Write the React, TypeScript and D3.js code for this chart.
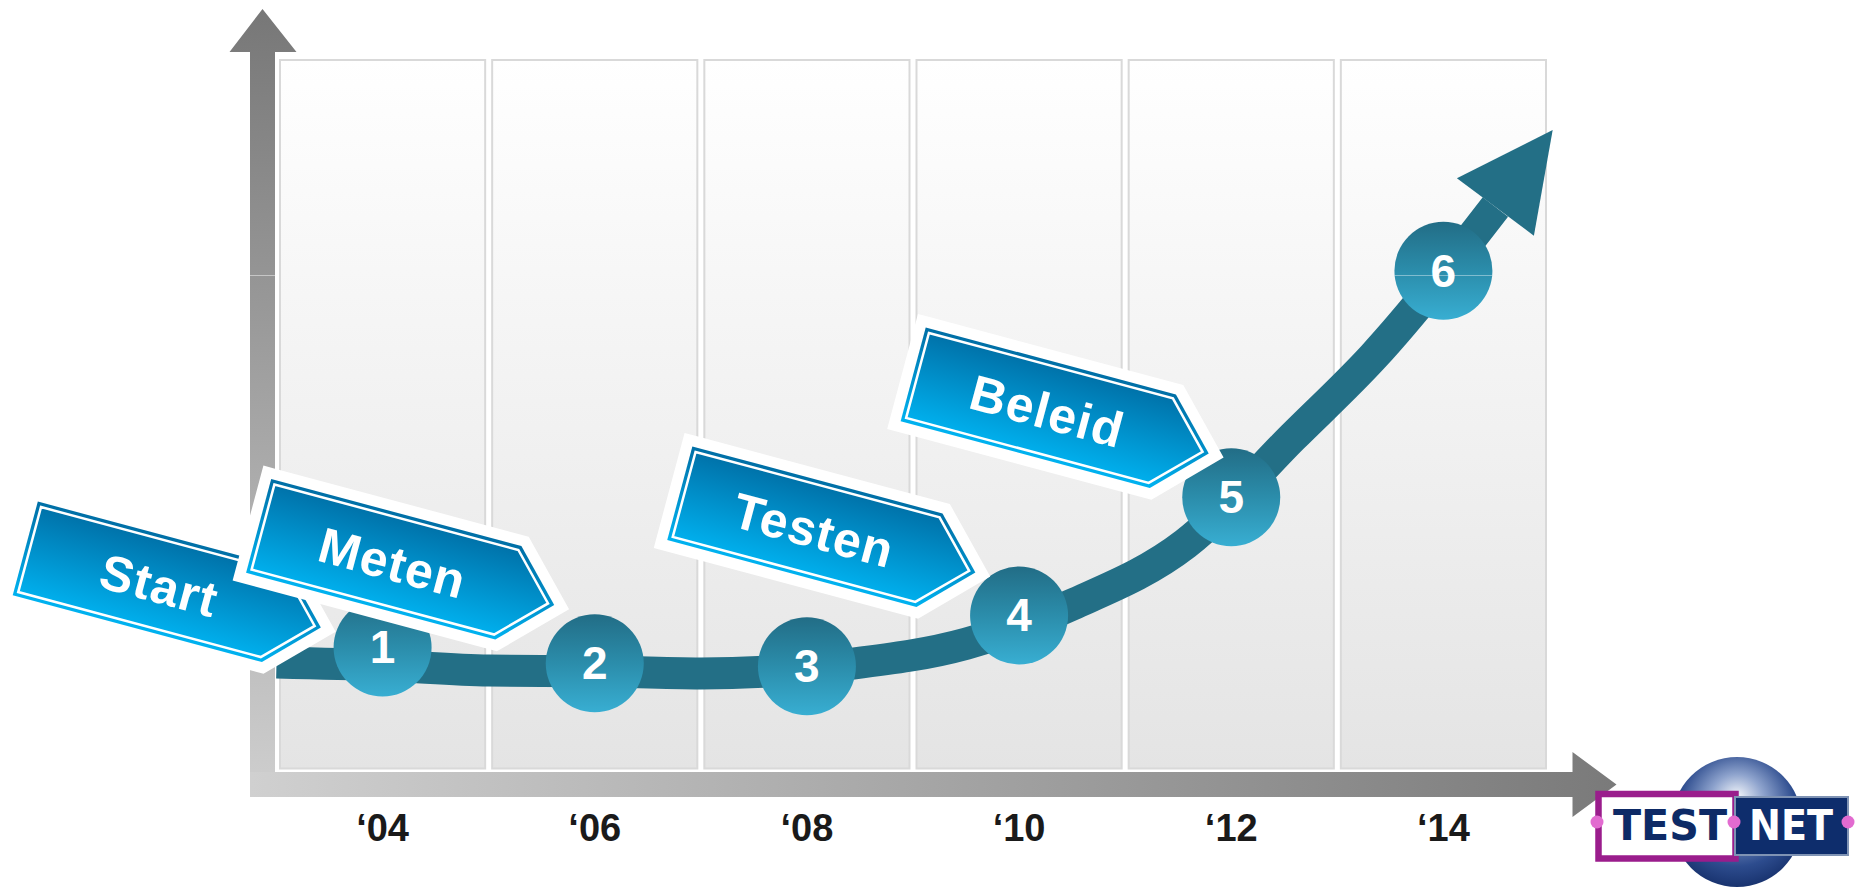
import React, { useRef, useEffect } from "react";
import * as d3 from "d3";

// -----------------------------
// Data
// -----------------------------
const years = [2004, 2006, 2008, 2010, 2012, 2014];
const tickLabels = ["‘04", "‘06", "‘08", "‘10", "‘12", "‘14"];
const milestoneNumbers = ["1", "2", "3", "4", "5", "6"];
const milestoneValues = [18.9, 16.7, 16.3, 23.3, 39.6, 70.8];

const trendYears = [2003.0, 2004.0, 2005.0, 2006.0, 2007.0, 2008.4, 2009.5, 2010.5, 2011.57, 2012.58, 2013.34, 2014.49];
const trendValues = [16.8, 16.4, 15.7, 15.6, 15.3, 16.6, 19.4, 24.8, 33.2, 47.9, 59.0, 79.6];
const trendTipYear = 2015.03;
const trendTipValue = 90.2;

const signLabels = ["Start", "Meten", "Testen", "Beleid"];
const signYears = [2000.75, 2002.95, 2006.92, 2009.12];
const signValues = [39.0, 42.1, 46.6, 63.0];

const W = 1856;
const H = 890;
const FONT = "'Liberation Sans', Arial, Helvetica, sans-serif";

const GrowthChart: React.FC = () => {
    const svgRef = useRef<SVGSVGElement | null>(null);

    useEffect(() => {
        if (!svgRef.current) return;

        const svg = d3.select(svgRef.current);
        svg.selectAll("*").remove();

        const x = d3.scaleLinear().domain([2003, 2015]).range([276.5, 1549.5]);
        const y = d3.scaleLinear().domain([0, 100]).range([784.5, 59]);

        // -----------------------------
        // Gradients
        // -----------------------------
        const defs = svg.append("defs");
        const linear = (id: string, stops: [number, string][], x1 = 0, y1 = 0, x2 = 0, y2 = 1, user = false) => {
            const lg = defs.append("linearGradient").attr("id", id)
                .attr("x1", x1).attr("y1", y1).attr("x2", x2).attr("y2", y2);
            if (user) lg.attr("gradientUnits", "userSpaceOnUse");
            stops.forEach(([o, c]) => lg.append("stop").attr("offset", o).attr("stop-color", c));
        };
        linear("panelGrad", [[0, "#ffffff"], [1, "#e4e4e4"]], 0, y(100), 0, y(0) - 15, true);
        linear("yAxisGrad", [[0, "#777777"], [1, "#cfcfcf"]], 0, 9, 0, 797, true);
        linear("xAxisGrad", [[0, "#d0d0d0"], [1, "#7a7a7a"]], 251, 0, 1616, 0, true);
        linear("circleGrad", [[0, "#226d86"], [0.5, "#2b8dab"], [1, "#38aed2"]]);
        linear("signGrad", [[0, "#006fa6"], [1, "#00b2f0"]]);

        const rg = defs.append("radialGradient").attr("id", "globeGrad")
            .attr("cx", 0.5).attr("cy", 0.42).attr("r", 0.6).attr("fx", 0.5).attr("fy", 0.3);
        [[0, "#f3f6fb"], [0.35, "#8ea3cd"], [0.75, "#2d4c8e"], [1, "#16306b"]]
            .forEach(([o, c]) => rg.append("stop").attr("offset", o as number).attr("stop-color", c as string));

        const g = svg.append("g");

        // -----------------------------
        // Panels
        // -----------------------------
        const panelTop = y(100);
        const panelBottom = y(0) - 15;
        g.selectAll("rect.panel")
            .data(years)
            .join("rect")
            .attr("class", "panel")
            .attr("x", d => x(d - 1) + 3.5)
            .attr("y", panelTop + 1)
            .attr("width", d => x(d + 1) - x(d - 1) - 7)
            .attr("height", panelBottom - panelTop - 2)
            .attr("fill", "url(#panelGrad)")
            .attr("stroke", "#d9d9d9")
            .attr("stroke-width", 2);

        // -----------------------------
        // Axes
        // -----------------------------
        const axisX = x(2003) - 14;
        const axisY = y(0);
        const half = 12.5;
        g.append("path")
            .attr("d", `M${axisX - half},${axisY - half}H${x(2015) + 23}V${axisY - 32.5}L${x(2015) + 67},${axisY}L${x(2015) + 23},${axisY + 32.5}V${axisY + half}H${axisX - half}Z`)
            .attr("fill", "url(#xAxisGrad)");
        g.append("path")
            .attr("d", `M${axisX - half},${axisY + half}V${y(100) - 7}H${axisX - 33}L${axisX},${y(100) - 50}L${axisX + 34},${y(100) - 7}H${axisX + half}V${axisY - half}H${axisX - half}Z`)
            .attr("fill", "url(#yAxisGrad)");
        g.append("line")
            .attr("x1", axisX - half).attr("x2", axisX + half)
            .attr("y1", 275.5).attr("y2", 275.5)
            .attr("stroke", "#c6c6c6").attr("stroke-width", 1);

        // tick labels
        g.selectAll("text.tick")
            .data(years)
            .join("text")
            .attr("class", "tick")
            .attr("x", d => x(d))
            .attr("y", axisY + 56)
            .attr("text-anchor", "middle")
            .attr("font-family", FONT)
            .attr("font-weight", "bold")
            .attr("font-size", 38)
            .attr("fill", "#1a1a1a")
            .text((_, i) => tickLabels[i]);

        // -----------------------------
        // Trend curve with arrow
        // -----------------------------
        const pts: [number, number][] = trendYears.map((t, i) => [t, trendValues[i]]);
        const line = d3.line<[number, number]>()
            .x(d => x(d[0]))
            .y(d => y(d[1]))
            .curve(d3.curveMonotoneX);
        g.append("path")
            .attr("d", line(pts) ?? "")
            .attr("fill", "none")
            .attr("stroke", "#236f86")
            .attr("stroke-width", 32);

        const end = pts[pts.length - 1];
        const ex = x(end[0]), ey = y(end[1]);
        const tx = x(trendTipYear), ty = y(trendTipValue);
        const len = Math.hypot(tx - ex, ty - ey);
        const px = -(ty - ey) / len, py = (tx - ex) / len;
        g.append("path")
            .attr("d", `M${tx},${ty}L${ex + px * 48},${ey + py * 48}L${ex - px * 48},${ey - py * 48}Z`)
            .attr("fill", "#236f86");

        // -----------------------------
        // Milestone circles
        // -----------------------------
        const ms = g.selectAll("g.milestone")
            .data(years)
            .join("g")
            .attr("class", "milestone")
            .attr("transform", (d, i) => `translate(${x(d)},${y(milestoneValues[i])})`);
        ms.append("circle").attr("r", 49).attr("fill", "url(#circleGrad)");
        ms.filter((_, i) => i === 5)
            .append("line")
            .attr("x1", -49).attr("x2", 49)
            .attr("y1", 275.5 - y(milestoneValues[5])).attr("y2", 275.5 - y(milestoneValues[5]))
            .attr("stroke", "#ffffff").attr("stroke-opacity", 0.4).attr("stroke-width", 1);
        ms.append("text")
            .attr("y", 16)
            .attr("text-anchor", "middle")
            .attr("font-family", FONT)
            .attr("font-weight", "bold")
            .attr("font-size", 46)
            .attr("fill", "#ffffff")
            .text((_, i) => milestoneNumbers[i]);

        // -----------------------------
        // Signs
        // -----------------------------
        const outer = "M0,0H259L306,48.5L258,97H0Z";
        const inner = "M4.5,4.5H257.1L299.6,48.5L255.6,92.5H4.5Z";
        signLabels.forEach((label, i) => {
            const s = g.append("g")
                .attr("transform", `translate(${x(signYears[i])},${y(signValues[i])}) rotate(15)`);
            s.append("path").attr("d", outer)
                .attr("fill", "#ffffff").attr("stroke", "#ffffff")
                .attr("stroke-width", 22).attr("stroke-linejoin", "miter").attr("stroke-miterlimit", 10);
            s.append("path").attr("d", outer).attr("fill", "url(#signGrad)");
            s.append("path").attr("d", inner)
                .attr("fill", "none").attr("stroke", "#ffffff").attr("stroke-width", 2.5);
            s.append("text")
                .attr("x", 139)
                .attr("y", 67)
                .attr("text-anchor", "middle")
                .attr("font-family", FONT)
                .attr("font-weight", "bold")
                .attr("font-size", 50)
                .attr("letter-spacing", 1.2)
                .attr("fill", "#ffffff")
                .text(label);
        });

        // -----------------------------
        // Logo
        // -----------------------------
        const logo = svg.append("g");
        logo.append("circle").attr("cx", 1737).attr("cy", 822).attr("r", 65).attr("fill", "url(#globeGrad)");
        logo.append("rect")
            .attr("x", 1598.5).attr("y", 794).attr("width", 137).attr("height", 64.5)
            .attr("fill", "#ffffff").attr("stroke", "#9a1d8c").attr("stroke-width", 6.5);
        logo.append("rect")
            .attr("x", 1735).attr("y", 797).attr("width", 113).attr("height", 58)
            .attr("fill", "#0e2d6c").attr("stroke", "#7f93b4").attr("stroke-width", 2);
        logo.append("text")
            .attr("x", 1613).attr("y", 840)
            .attr("textLength", 114).attr("lengthAdjust", "spacingAndGlyphs")
            .attr("font-family", "'DejaVu Sans', sans-serif").attr("font-weight", "bold")
            .attr("font-size", 43).attr("fill", "#0d2a66")
            .text("TEST");
        logo.append("text")
            .attr("x", 1749).attr("y", 840)
            .attr("textLength", 84).attr("lengthAdjust", "spacingAndGlyphs")
            .attr("font-family", "'DejaVu Sans', sans-serif").attr("font-weight", "bold")
            .attr("font-size", 43).attr("fill", "#ffffff")
            .text("NET");
        logo.selectAll("circle.dot")
            .data([1597, 1734, 1848])
            .join("circle")
            .attr("class", "dot")
            .attr("cx", d => d).attr("cy", 822).attr("r", 6.5)
            .attr("fill", "#e26bd0");
    }, []);

    return (
        <svg
            ref={svgRef}
            width={W}
            height={H}
            style={{ position: "absolute", left: 0, top: 0, background: "#ffffff" }}
        />
    );
};

export default function App() {
    return <GrowthChart />;
}
